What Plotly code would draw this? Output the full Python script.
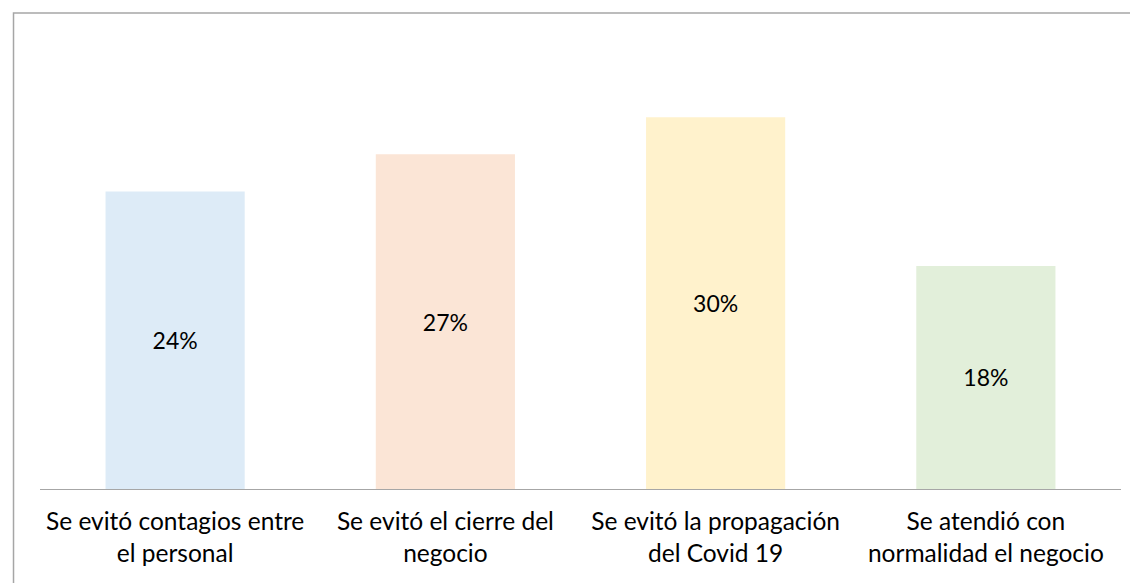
import plotly.graph_objects as go

# Data
categories = [
    "Se evitó contagios entre<br>el personal",
    "Se evitó el cierre del<br>negocio",
    "Se evitó la propagación<br>del Covid 19",
    "Se atendió con<br>normalidad el negocio",
]
values = [24, 27, 30, 18]
labels = ["24%", "27%", "30%", "18%"]
bar_colors = ["#DDEBF7", "#FBE5D6", "#FFF2CC", "#E2EFDA"]

FONT = "Lato, Carlito, Calibri, sans-serif"

fig = go.Figure(go.Bar(
    x=categories,
    y=values,
    text=labels,
    textposition="inside",
    insidetextanchor="middle",
    textfont=dict(size=23, color="#000000", family=FONT),
    marker=dict(color=bar_colors, line=dict(width=0)),
    width=0.515,
    hoverinfo="skip",
))

# outer chart border (top and left visible)
fig.add_shape(
    type="rect", xref="paper", yref="paper",
    x0=-0.0245, x1=1.03, y0=-0.25, y1=1.0106,
    line=dict(color="#A6A6A6", width=1.5),
    layer="below",
)

fig.update_layout(
    width=1130,
    height=575,
    margin=dict(l=32, r=17, t=10, b=94),
    plot_bgcolor="white",
    paper_bgcolor="white",
    font=dict(family=FONT, size=23, color="#000000"),
    showlegend=False,
    bargap=0.485,
    xaxis=dict(
        showline=True, linecolor="#A6A6A6", linewidth=1,
        showgrid=False, ticks="", ticklabelstandoff=11,
        tickfont=dict(size=24.5, family=FONT),
    ),
    yaxis=dict(
        range=[0, 38], visible=False, showgrid=False,
    ),
)

fig.write_html("out.html")
